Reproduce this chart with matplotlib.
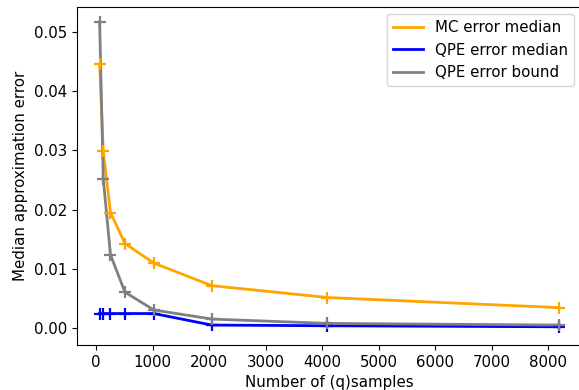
import matplotlib
matplotlib.use("Agg")
import matplotlib.pyplot as plt

samples = [64, 128, 256, 512, 1024, 2048, 4096, 8192]
mc_median = [0.0445, 0.0299, 0.0195, 0.0143, 0.0110, 0.0072, 0.0052, 0.0035]
qpe_median = [0.0025, 0.0025, 0.0025, 0.0025, 0.0025, 0.00056, 0.00044, 0.00027]
qpe_bound = [0.0516, 0.0252, 0.0124, 0.0061, 0.0031, 0.00157, 0.00084, 0.00056]

plt.rcParams['font.size'] = 10.8

fig = plt.figure(figsize=(5.79, 3.9), dpi=100)
left, right, top, bottom = 76.7, 581.8, 6.7, 345.0
ax = fig.add_axes([left/579, 1 - bottom/390, (right - left)/579, (bottom - top)/390])

series = [(mc_median, "orange", "MC error median"),
          (qpe_median, "blue", "QPE error median"),
          (qpe_bound, "gray", "QPE error bound")]
for vals, col, lab in series:
    ax.plot(samples, vals, color=col, linewidth=2.0, label=lab)
for vals, col, lab in series:
    ax.plot(samples, vals, color=col, linestyle="none", marker="+", markersize=8.5, markeredgewidth=1.6)

ax.set_xlim(-342, 8598)
ax.set_ylim(-0.0028, 0.0542)
ax.set_xlabel("Number of (q)samples")
ax.set_ylabel("Median approximation error")
ax.legend(loc="upper right", handlelength=2.0)
fig.savefig("out.png", dpi=100)
